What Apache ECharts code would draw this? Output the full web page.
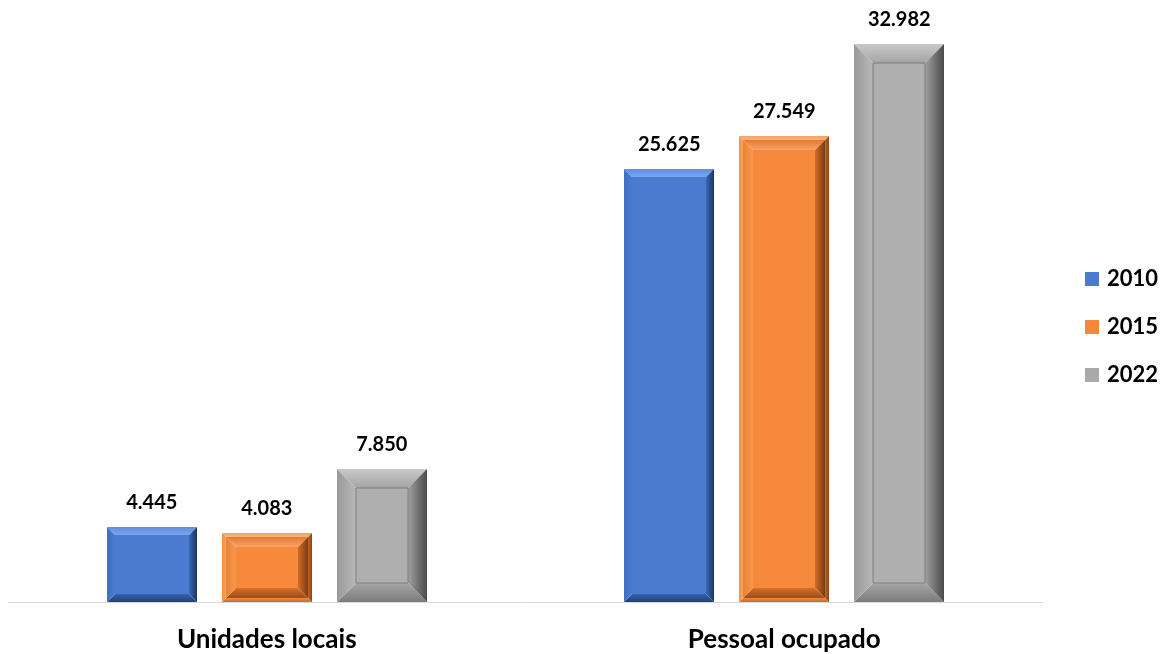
<!DOCTYPE html>
<html><head><meta charset="utf-8">
<script src="https://cdn.jsdelivr.net/npm/echarts@6/dist/echarts.min.js"></script>
<style>html,body{margin:0;padding:0;background:#fff}#c{width:1167px;height:654px}</style>
</head><body><div id="c"></div>
<script>
const categories = ['Unidades locais', 'Pessoal ocupado'];
const years = ['2010', '2015', '2022'];
const values2010 = [4445, 25625];
const values2015 = [4083, 27549];
const values2022 = [7850, 32982];
const labels2010 = ['4.445', '25.625'];
const labels2015 = ['4.083', '27.549'];
const labels2022 = ['7.850', '32.982'];

const FONT = 'Lato, Carlito, Calibri, "Open Sans", sans-serif';
const G = echarts.graphic;
function lg(x, y, x2, y2, c1, c2) {
  return new G.LinearGradient(x, y, x2, y2, [{offset: 0, color: c1}, {offset: 1, color: c2}]);
}
// raised bevel facets
function bevel(x0, y0, x1, y1, b, p) {
  const out = [];
  out.push({type: 'polygon', shape: {points: [[x0, y0], [x1, y0], [x1 - b, y0 + b], [x0 + b, y0 + b]]}, style: {fill: lg(0, 0, 0, 1, p.top[0], p.top[1])}});
  out.push({type: 'polygon', shape: {points: [[x0, y1], [x1, y1], [x1 - b, y1 - b], [x0 + b, y1 - b]]}, style: {fill: lg(0, 1, 0, 0, p.bot[0], p.bot[1])}});
  out.push({type: 'polygon', shape: {points: [[x0, y0], [x0, y1], [x0 + b, y1 - b], [x0 + b, y0 + b]]}, style: {fill: lg(0, 0, 1, 0, p.left[0], p.left[1])}});
  out.push({type: 'polygon', shape: {points: [[x1, y0], [x1, y1], [x1 - b, y1 - b], [x1 - b, y0 + b]]}, style: {fill: lg(1, 0, 0, 0, p.right[0], p.right[1])}});
  return out;
}
const palettes = [
  { // blue
    face: '#4a7bd0',
    draw(x0, y0, x1, y1) {
      const b = Math.min(8, (y1 - y0) / 2);
      return bevel(x0, y0, x1, y1, b, {
        top: ['#5f8ee0', '#7aa5ec'], bot: ['#22406f', '#3563b0'],
        left: ['#3f6fc2', '#4a7bd0'], right: ['#1c3560', '#3a68b6']
      }).concat([{type: 'rect', shape: {x: x0 + b, y: y0 + b, width: x1 - x0 - 2 * b, height: y1 - y0 - 2 * b}, style: {fill: '#4a7bd0'}}]);
    }
  },
  { // orange
    face: '#f5883a',
    draw(x0, y0, x1, y1) {
      const b1 = 4, b2 = Math.min(10, (y1 - y0) / 2 - b1);
      let els = bevel(x0, y0, x1, y1, b1, {
        top: ['#f8a060', '#fbb47a'], bot: ['#d26a24', '#f08a40'],
        left: ['#f29040', '#f8a35c'], right: ['#8e4512', '#c8621e']
      });
      const a0 = x0 + b1, c0 = y0 + b1, a1 = x1 - b1, c1 = y1 - b1;
      els = els.concat(bevel(a0, c0, a1, c1, b2, {
        top: ['#e27a30', '#fba368'], bot: ['#9c4d16', '#d47028'],
        left: ['#ea8236', '#f7984c'], right: ['#7c3c10', '#d06c26']
      }));
      els.push({type: 'rect', shape: {x: a0 + b2, y: c0 + b2, width: a1 - a0 - 2 * b2, height: c1 - c0 - 2 * b2}, style: {fill: '#f6893b'}});
      return els;
    }
  },
  { // gray
    face: '#a9a9a9',
    draw(x0, y0, x1, y1) {
      const b = 19;
      return bevel(x0, y0, x1, y1, b, {
        top: ['#c9c9c9', '#a4a4a4'], bot: ['#7c7c7c', '#a6a6a6'],
        left: ['#9a9a9a', '#b8b8b8'], right: ['#4a4a4a', '#a0a0a0']
      }).concat([{type: 'rect', shape: {x: x0 + b, y: y0 + b, width: x1 - x0 - 2 * b, height: y1 - y0 - 2 * b}, style: {fill: '#afafaf', stroke: '#7f7f7f', lineWidth: 1}}]);
    }
  }
];
const seriesValues = [values2010, values2015, values2022];
const seriesLabels = [labels2010, labels2015, labels2022];
const BAR_W = 90, BAR_GAP = 25;

const series = years.map((y, s) => ({
  type: 'custom',
  name: y,
  itemStyle: {color: palettes[s].face},
  encode: {x: 0, y: 1},
  data: seriesValues[s].map((v, i) => [i, v]),
  renderItem(params, api) {
    const idx = api.value(0);
    const base = api.coord([idx, 0]);
    const top = api.coord([idx, api.value(1)]);
    const cx = base[0] + (s - 1) * (BAR_W + BAR_GAP);
    const x0 = Math.round(cx - BAR_W / 2), x1 = x0 + BAR_W;
    const y0 = Math.round(top[1]), y1 = Math.round(base[1]);
    const children = palettes[s].draw(x0, y0, x1, y1);
    children.push({type: 'text', style: {text: seriesLabels[s][params.dataIndex], x: cx, y: y0 - 24, align: 'center', verticalAlign: 'middle', fill: '#000', font: 'bold 20px ' + FONT}});
    return {type: 'group', children};
  }
}));

const chart = echarts.init(document.getElementById('c'), null, {renderer: 'canvas'});
chart.setOption({
  animation: false,
  backgroundColor: '#fff',
  grid: {left: 8, right: 124, top: 10, bottom: 52, containLabel: false},
  legend: {
    orient: 'vertical', left: 1085, top: 268, itemWidth: 14, itemHeight: 14, itemGap: 26,
    icon: 'rect', padding: 0,
    textStyle: {fontFamily: FONT, fontWeight: 'bold', fontSize: 22, color: '#000', padding: [0, 0, 0, 3]},
    data: years
  },
  xAxis: {
    type: 'category', data: categories,
    axisLine: {lineStyle: {color: '#d9d9d9', width: 1}},
    axisTick: {show: false},
    axisLabel: {fontFamily: FONT, fontWeight: 'bold', fontSize: 26, color: '#000', margin: 25}
  },
  yAxis: {type: 'value', min: 0, max: 35000, show: false, splitLine: {show: false}},
  series
});
</script></body></html>
